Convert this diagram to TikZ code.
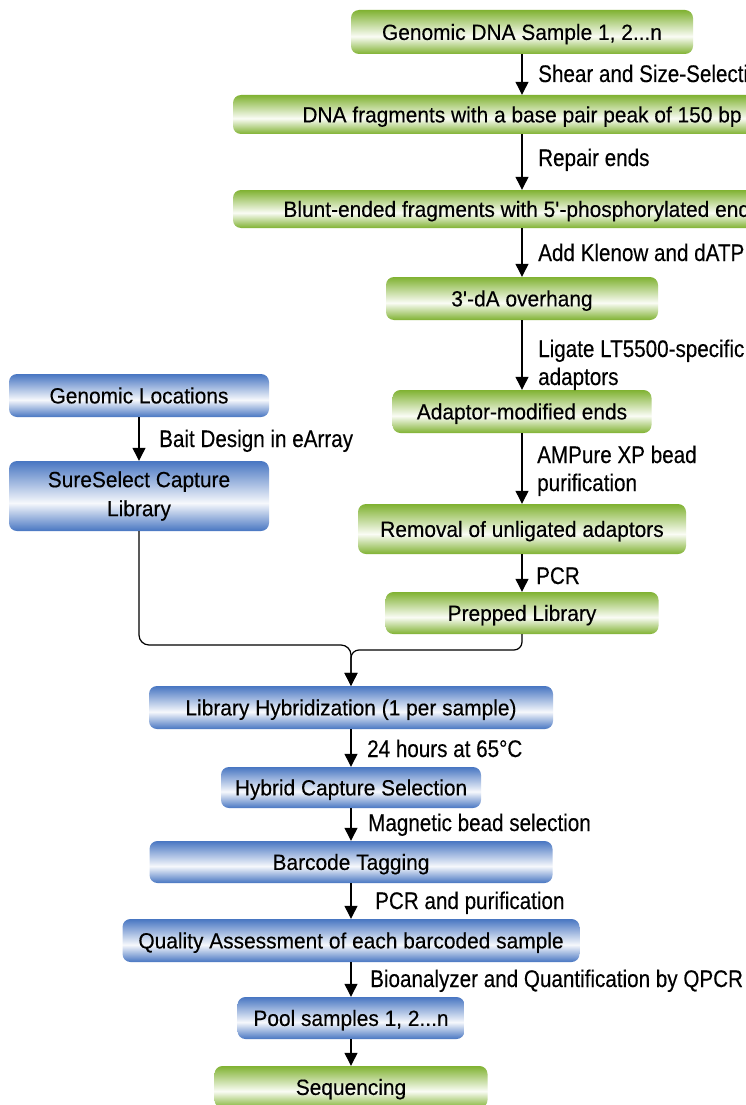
\documentclass[tikz,border=0pt]{standalone}
\usepackage{fontspec}
\setmainfont{Liberation Sans}[FakeStretch=0.95, FakeBold=0.3]
\newfontfamily\labfam{Liberation Sans}[FakeStretch=0.86, FakeBold=0.3]
\usetikzlibrary{arrows.meta}
\definecolor{grn}{RGB}{128,178,50}
\definecolor{blu}{RGB}{72,118,194}
\definecolor{gwhite}{RGB}{250,252,245}
\definecolor{bwhite}{RGB}{246,248,252}
\pgfdeclareverticalshading{gshade}{100bp}{color(0bp)=(grn); color(25bp)=(grn); color(45bp)=(gwhite); color(75bp)=(grn); color(100bp)=(grn)}
\pgfdeclareverticalshading{bshade}{100bp}{color(0bp)=(blu); color(25bp)=(blu); color(45bp)=(bwhite); color(75bp)=(blu); color(100bp)=(blu)}
\newcommand{\boxfont}{\fontsize{22}{29}\selectfont}
\newcommand{\labfont}{\labfam\fontsize{24}{28}\selectfont}
\begin{document}
\begin{tikzpicture}[x=1pt,y=-1pt,
  box/.style={rounded corners=8pt, inner sep=0pt, align=center, font=\boxfont},
  one/.style={text height=15.8pt, text depth=0pt},
  gbox/.style={box, shade, shading=gshade},
  bbox/.style={box, shade, shading=bshade},
  lab/.style={anchor=base west, inner sep=0pt, align=left, font=\labfont},
  conn/.style={line width=1.2pt, -{Triangle[width=13pt,length=13pt]}}]
\useasboundingbox (0,0) rectangle (746,1105);
\fill[white] (0,0) rectangle (746,1105);
\clip (0,0) rectangle (746,1105);

% right column (green)
\node[gbox, one, minimum width=342pt, minimum height=44pt] (g1) at (522,32) {Genomic DNA Sample 1, 2...n};
\node[gbox, one, minimum width=578pt, minimum height=39pt] (g2) at (522,114.5) {DNA fragments with a base pair peak of 150 bp};
\node[gbox, one, minimum width=578pt, minimum height=38pt] (g3) at (522,209) {Blunt-ended fragments with 5\textquotesingle-phosphorylated ends};
\node[gbox, one, minimum width=272pt, minimum height=43pt] (g4) at (522,298.5) {3\textquotesingle-dA overhang};
\node[gbox, one, minimum width=259pt, minimum height=43pt] (g5) at (522,411.5) {Adaptor-modified ends};
\node[gbox, one, minimum width=328pt, minimum height=50pt] (g6) at (522,529) {Removal of unligated adaptors};
\node[gbox, one, minimum width=273pt, minimum height=42pt] (g7) at (522,613) {Prepped Library};

% left column (blue)
\node[bbox, one, minimum width=260pt, minimum height=43pt] (b1) at (139,395.5) {Genomic Locations};
\node[bbox, minimum width=260pt, minimum height=70pt] (b2) at (139,496) {SureSelect Capture\\Library};

% bottom column
\node[bbox, one, minimum width=404pt, minimum height=43pt] (b3) at (351,707.5) {Library Hybridization (1 per sample)};
\node[bbox, one, minimum width=260pt, minimum height=41pt] (b4) at (351,787.5) {Hybrid Capture Selection};
\node[bbox, one, minimum width=403pt, minimum height=42pt] (b5) at (351,862) {Barcode Tagging};
\node[bbox, one, minimum width=457pt, minimum height=43pt] (b6) at (351,940.5) {Quality Assessment of each barcoded sample};
\node[bbox, one, minimum width=227pt, minimum height=42pt] (b7) at (351,1018) {Pool samples 1, 2...n};
\node[gbox, one, minimum width=273pt, minimum height=42pt] (g8) at (351,1087) {Sequencing};

% labels
\node[lab] (l1) at (538,82) {Shear and Size-Selection};
\node[lab] (l2) at (538,166) {Repair ends};
\node[lab] (l3) at (538,261) {Add Klenow and dATP};
\node[lab] (l4) at (538,385) {Ligate LT5500-specific\\adaptors};
\node[lab] (l5) at (537,491) {AMPure XP bead\\purification};
\node[lab] (l6) at (536,584) {PCR};
\node[lab] (l7) at (159,447) {Bait Design in eArray};
\node[lab] (l8) at (367,757) {24 hours at 65\textdegree C};
\node[lab] (l9) at (368,831) {Magnetic bead selection};
\node[lab] (l10) at (375,909) {PCR and purification};
\node[lab] (l11) at (370,987) {Bioanalyzer and Quantification by QPCR};

% connectors
\draw[conn] (g1) -- (g2);
\draw[conn] (g2) -- (g3);
\draw[conn] (g3) -- (g4);
\draw[conn] (g4) -- (g5);
\draw[conn] (g5) -- (g6);
\draw[conn] (g6) -- (g7);
\draw[conn] (b1) -- (b2);
\coordinate (m1) at (351,645);
\coordinate (m2) at (351,650);
\draw[conn, rounded corners=10pt] (b2.south) |- (m1) -- (b3.north);
\draw[conn, rounded corners=8pt] (g7.south) |- (m2) -- (b3.north);
\draw[conn] (b3) -- (b4);
\draw[conn] (b4) -- (b5);
\draw[conn] (b5) -- (b6);
\draw[conn] (b6) -- (b7);
\draw[conn] (b7) -- (g8);
\end{tikzpicture}
\end{document}
